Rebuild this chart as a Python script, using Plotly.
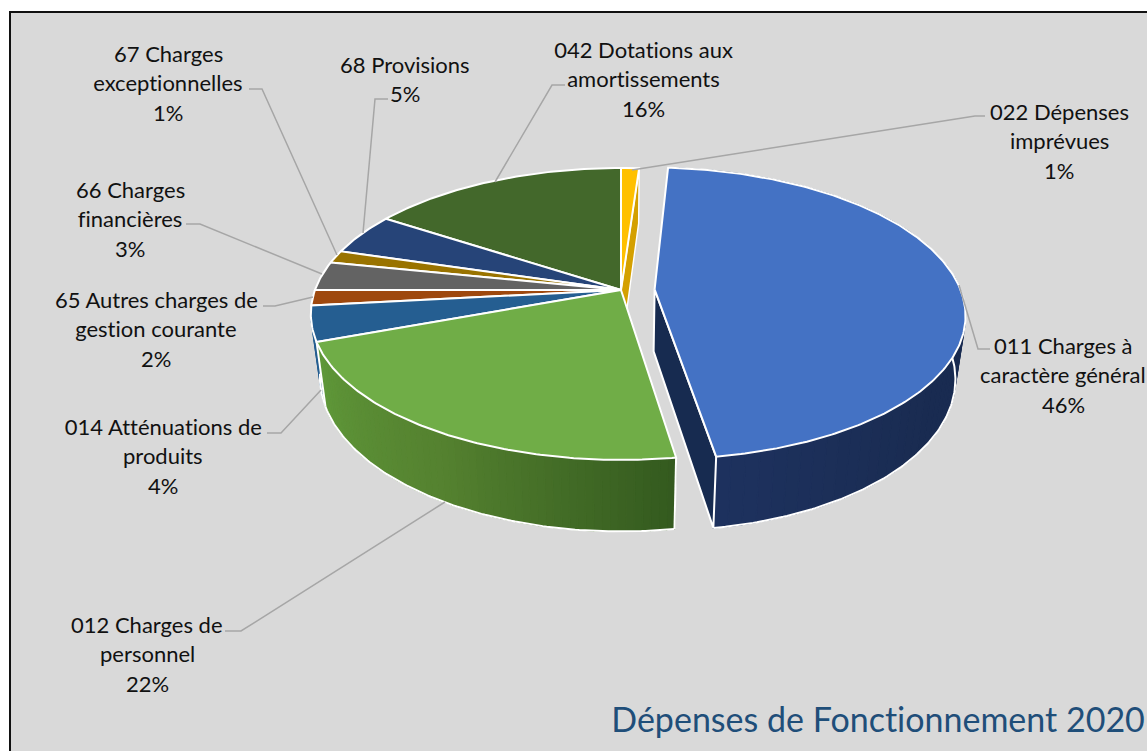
import math
import plotly.graph_objects as go

# ---------- data ----------
categories = ["022 Dépenses imprévues", "011 Charges à caractère général", "012 Charges de personnel",
              "014 Atténuations de produits", "65 Autres charges de gestion courante", "66 Charges financières",
              "67 Charges exceptionnelles", "68 Provisions", "042 Dotations aux amortissements"]
values = [1.1, 46.48, 21.8, 3.9, 1.7, 3.2, 1.4, 4.6, 15.8]
explode = [0, 0.11, 0, 0, 0, 0, 0, 0, 0]
colors = ["#FFC000", "#4472C4", "#70AD47", "#255E91", "#9E480E", "#636363", "#997300", "#264478", "#43682B"]
label_lines = [["022 Dépenses", "imprévues"], ["011 Charges à", "caractère général"], ["012 Charges de", "personnel"],
               ["014 Atténuations de", "produits"], ["65 Autres charges de", "gestion courante"],
               ["66 Charges", "financières"], ["67 Charges", "exceptionnelles"], ["68 Provisions"],
               ["042 Dotations aux", "amortissements"]]
title_text = "Dépenses de Fonctionnement 2020"

# ---------- layout constants ----------
W, H = 1147, 751
CX, K = 621, 0.164
TOP = dict(cy=290, rx=306, ry=142)
BOT = dict(cy=352, rx=297, ry=150)
LINE = 29.5
label_anchor = [(1059, 111), (1063, 345), (147, 624), (163, 426), (156, 299), (130, 189), (168, 53), (405, 64), (643, 49)]
leaders = [[(985, 116), (975, 116), (632, 170)], [(990, 349), (978, 349), (959, 285)], [(225, 631), (241, 631), (445, 502)],
           [(267, 433), (281, 433), (321, 390)], [(263, 306), (275, 306), (313, 297)], [(186, 224), (200, 224), (322, 274)],
           [(249, 89), (262, 89), (337, 255)], [(388, 99), (375, 99), (363, 233)], [(565, 85), (552, 85), (495, 182)]]
WHITE = "#FFFFFF"

total = sum(values)
edges = [0.0]
for v in values:
    edges.append(edges[-1] + v / total * 360)


def shift(i):
    mid = math.radians((edges[i] + edges[i + 1]) / 2)
    return explode[i] * math.sin(mid), explode[i] * math.cos(mid)


def proj(u, v, plane):
    d = 1 + K * v
    return CX + plane["rx"] * u / d, plane["cy"] - plane["ry"] * v / d


def rim(i, a, plane):
    du, dv = shift(i)
    r = math.radians(a)
    return proj(math.sin(r) + du, math.cos(r) + dv, plane)


def apex(i, plane):
    du, dv = shift(i)
    return proj(du, dv, plane)


def arc(i, a0, a1, plane):
    n = max(2, int(abs(a1 - a0) * 1.5))
    return [rim(i, a0 + (a1 - a0) * j / n, plane) for j in range(n + 1)]


def poly(fig, pts, fill, line=WHITE, width=2.0, close=True):
    pts = list(pts) + ([pts[0]] if close else [])
    fig.add_trace(go.Scatter(x=[p[0] for p in pts], y=[p[1] for p in pts], mode="lines",
                             fill="toself" if fill else None, fillcolor=fill,
                             line=dict(color=line, width=width), hoverinfo="skip", showlegend=False))


def mix(stops, t):
    for (t0, c0), (t1, c1) in zip(stops, stops[1:]):
        if t <= t1:
            f = (t - t0) / (t1 - t0)
            return "rgb(%d,%d,%d)" % tuple(c0[j] + (c1[j] - c0[j]) * f for j in range(3))
    return "rgb(%d,%d,%d)" % stops[-1][1]


def side(fig, i, a0, a1, stops, n):
    for j in range(n):
        s0 = a0 + (a1 - a0) * j / n
        s1 = a0 + (a1 - a0) * (j + 1) / n
        col = mix(stops, (j + 0.5) / n)
        pts = arc(i, s0, s1, TOP) + arc(i, s1, s0, BOT)
        poly(fig, pts, col, line=col, width=1.2)
    poly(fig, arc(i, a0, a1, BOT), None, width=2.0, close=False)


fig = go.Figure()

# yellow cut face
poly(fig, [apex(0, TOP), rim(0, edges[1], TOP), rim(0, edges[1], BOT), apex(0, BOT)], "#D4A000", width=1.4)

# small 014 side sliver
side(fig, 3, edges[3], edges[3] + 12, [(0, (37, 94, 145)), (1, (37, 94, 145))], 3)

# green side
green_stops = [(0, (52, 90, 31)), (0.5, (85, 130, 48)), (1, (96, 153, 58))]
side(fig, 2, edges[2], edges[3], green_stops, 60)
poly(fig, [rim(2, edges[2], TOP), rim(2, edges[2], BOT)], None, close=False)
poly(fig, [rim(2, edges[3], TOP), rim(2, edges[3], BOT)], None, close=False)

# tops except blue
for i in [8, 7, 6, 5, 4, 3, 0, 2]:
    poly(fig, [apex(i, TOP)] + arc(i, edges[i], edges[i + 1], TOP), colors[i])

# blue side and cut face
blue_stops = [(0, (23, 41, 78)), (0.75, (26, 44, 82)), (1, (30, 50, 95))]
side(fig, 1, edges[1], edges[2], blue_stops, 70)
poly(fig, [apex(1, TOP), apex(1, BOT), rim(1, edges[2], BOT), rim(1, edges[2], TOP)], "#172B50")
poly(fig, [apex(1, TOP)] + arc(1, edges[1], edges[2], TOP), colors[1])

# leader lines
for pts in leaders:
    poly(fig, pts, None, line="#A6A6A6", width=1.5, close=False)

# labels
ann = []
for lines, (ax, ay), v in zip(label_lines, label_anchor, values):
    for j, t in enumerate(lines + ["%d%%" % round(v / total * 100)]):
        ann.append(dict(x=ax, y=ay + j * LINE, text=t, showarrow=False, xanchor="center", yanchor="middle",
                        font=dict(family="Lato", size=22, color="#111111")))
ann.append(dict(x=609, y=718, text=title_text, showarrow=False, xanchor="left", yanchor="middle",
                font=dict(family="Lato", size=34, color="#1F4E79")))

fig.update_layout(
    width=W, height=H, margin=dict(l=0, r=0, t=0, b=0), paper_bgcolor="white", plot_bgcolor="white",
    xaxis=dict(range=[0, W], visible=False, fixedrange=True),
    yaxis=dict(range=[H, 0], visible=False, fixedrange=True),
    annotations=ann, showlegend=False,
    shapes=[dict(type="rect", xref="x", yref="y", x0=10, y0=12, x1=W + 20, y1=H + 20, fillcolor="#D9D9D9",
                 line=dict(color="#111111", width=2), layer="below")],
)
fig.write_html("out.html", config=dict(displayModeBar=False),
               post_script="document.body.style.margin='0';document.body.style.overflow='hidden';"
                           "document.querySelectorAll('svg text').forEach(function(t){"
                           "t.style.fontVariantLigatures='none';t.style.fontFeatureSettings='\"liga\" 0,\"clig\" 0';});")
